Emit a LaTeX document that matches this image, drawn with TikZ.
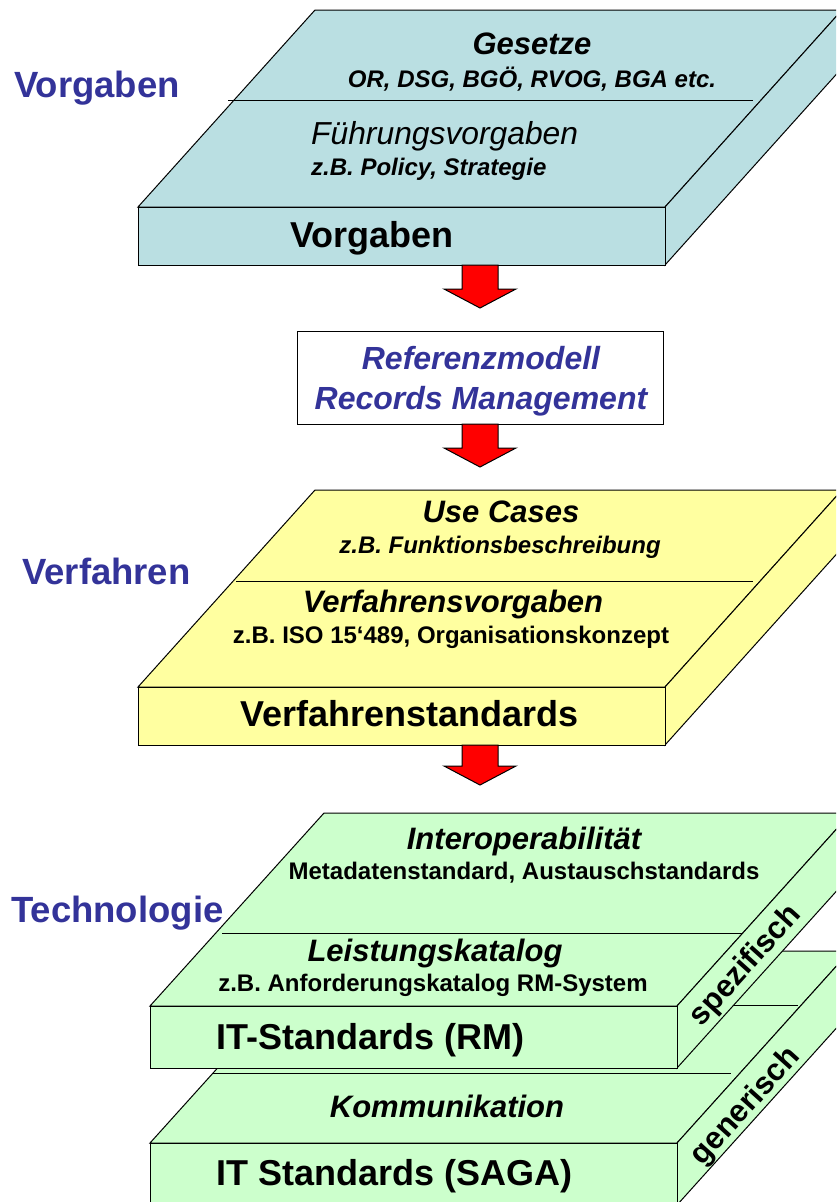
\documentclass[tikz,border=0pt]{standalone}
\usepackage{fontspec}
\setmainfont{Liberation Sans}
\usetikzlibrary{calc}
\definecolor{slabblue}{RGB}{186,223,226}
\definecolor{slabyellow}{RGB}{255,255,160}
\definecolor{slabgreen}{RGB}{204,255,204}
\definecolor{labblue}{RGB}{51,51,153}
\definecolor{arrowred}{RGB}{255,0,0}
\newcommand\drawslab[7]{%
  \filldraw[slabline, fill=#1] (#2,#5) -- ({#2+#7},#4) -- ({#3+#7},#4) -- (#3,#5) -- cycle;
  \filldraw[slabline, fill=#1] (#3,#5) -- ({#3+#7},#4) -- ({#3+#7},{#4+#6-#5}) -- (#3,#6) -- cycle;
  \filldraw[slabline, fill=#1] (#2,#5) rectangle (#3,#6);
}
\newcommand\blockarrow[2]{% start coordinate, tip coordinate
  \filldraw[arrowstyle]
    ($(#1)+(-18,0)$) -- ($(#1)+(18,0)$) -- ($(#2)+(18,-19)$) -- ($(#2)+(36,-19)$) --
    (#2) -- ($(#2)+(-36,-19)$) -- ($(#2)+(-18,-19)$) -- cycle;
}
\begin{document}
\begin{tikzpicture}[x=1pt,y=-1pt,
  slabline/.style={draw=black, line width=1pt},
  divline/.style={draw=black, line width=1pt},
  arrowstyle/.style={fill=arrowred, draw=black, line width=1pt},
  bigtxt/.style={font=\fontsize{36}{40}\selectfont\bfseries, inner sep=0pt},
  medtxt/.style={font=\fontsize{31}{36}\selectfont\bfseries\itshape, inner sep=0pt},
  medreg/.style={font=\fontsize{31.8}{36}\selectfont\itshape, inner sep=0pt},
  smalltxt/.style={font=\fontsize{24}{28}\selectfont\bfseries\itshape, inner sep=0pt},
  smallup/.style={font=\fontsize{24}{28}\selectfont\bfseries, inner sep=0pt},
  sidetxt/.style={font=\fontsize{31}{34}\selectfont\bfseries, inner sep=0pt, rotate=48},
  labtxt/.style={font=\fontsize{36.5}{40}\selectfont\bfseries, text=labblue, inner sep=0pt, anchor=base west},
  reftxt/.style={font=\fontsize{32}{36}\selectfont\bfseries\itshape, text=labblue, inner sep=0pt, anchor=base}
]
\useasboundingbox (0,0) rectangle (836,1202);
\begin{scope}
\clip (0,0) rectangle (836,1202);
% ---- blue slab
\drawslab{slabblue}{138}{665}{10}{207}{265}{177}
\draw[divline] (228,100) -- (753,100);
% ---- yellow slab
\drawslab{slabyellow}{138}{665}{490}{687}{745}{177}
\draw[divline] (236,581) -- (753,581);
% ---- lower green slab
\drawslab{slabgreen}{150}{677}{951}{1143}{1205}{173}
\draw[divline] (274,1005) -- (798,1005);
\draw[divline] (213,1073) -- (731,1073);
% ---- upper green slab
\drawslab{slabgreen}{150}{677}{813}{1006}{1068}{174}
\draw[divline] (222,933) -- (742,933);
\end{scope}

% ---- left labels
\node[labtxt] (lv) at (14,97) {Vorgaben};
\node[labtxt] (lf) at (22,584) {Verfahren};
\node[labtxt] (lt) at (11,922) {Technologie};

% ---- blue slab texts
\node[medtxt, anchor=base] (ges) at (532,54) {Gesetze};
\node[smalltxt, anchor=base] (gesd) at (532,87) {OR, DSG, BGÖ, RVOG, BGA etc.};
\node[medreg, anchor=base west] (fv) at (311,144) {Führungsvorgaben};
\node[smalltxt, anchor=base west] (fvd) at (311,175) {z.B. Policy, Strategie};
\node[bigtxt, anchor=base west] (vorg) at (290,247) {Vorgaben};

% ---- reference box
\node[draw=black, line width=1pt, fill=white, minimum width=366pt, minimum height=93pt, inner sep=0pt] (ref) at (480,377.5) {};
\node[reftxt] (ref1) at (481,369) {Referenzmodell};
\node[reftxt] (ref2) at (481,409) {Records Management};

% ---- yellow slab texts
\node[medtxt, anchor=base] (uc) at (501,522) {Use Cases};
\node[smalltxt, anchor=base] (ucd) at (500,553) {z.B. Funktionsbeschreibung};
\node[medtxt, anchor=base] (vv) at (453,612) {Verfahrensvorgaben};
\node[smallup, anchor=base] (vvd) at (451,643) {z.B. ISO 15‘489, Organisationskonzept};
\node[bigtxt, anchor=base west] (vs) at (240,726) {Verfahrenstandards};

% ---- green slab texts
\node[medtxt, anchor=base] (io) at (524,849) {Interoperabilität};
\node[smallup, anchor=base] (iod) at (524,879) {Metadatenstandard, Austauschstandards};
\node[medtxt, anchor=base] (lk) at (435,961) {Leistungskatalog};
\node[smallup, anchor=base] (lkd) at (433,991) {z.B. Anforderungskatalog RM-System};
\node[bigtxt, anchor=base west] (itrm) at (216,1049) {IT-Standards (RM)};
\node[medtxt, anchor=base] (komm) at (447,1117) {Kommunikation};
\node[bigtxt, anchor=base west] (itsaga) at (216,1185) {IT Standards (SAGA)};
\node[sidetxt] (spez) at (746,966) {spezifisch};
\node[sidetxt] (gen) at (746,1107) {generisch};

% ---- arrows
\coordinate (a1s) at (480,265);
\coordinate (a1e) at (480,308);
\coordinate (a2s) at (480,424);
\coordinate (a2e) at (480,467);
\coordinate (a3s) at (480,745);
\coordinate (a3e) at (480,785);
\blockarrow{a1s}{a1e}
\blockarrow{a2s}{a2e}
\blockarrow{a3s}{a3e}
\end{tikzpicture}
\end{document}
